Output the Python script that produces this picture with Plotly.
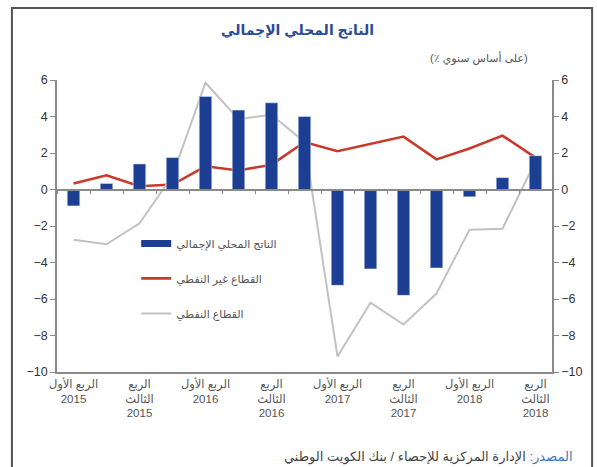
import plotly.graph_objects as go

quarters = [
    "الربع الأول 2015", "الربع الثاني 2015", "الربع الثالث 2015", "الربع الرابع 2015",
    "الربع الأول 2016", "الربع الثاني 2016", "الربع الثالث 2016", "الربع الرابع 2016",
    "الربع الأول 2017", "الربع الثاني 2017", "الربع الثالث 2017", "الربع الرابع 2017",
    "الربع الأول 2018", "الربع الثاني 2018", "الربع الثالث 2018",
]
gdp = [-0.9, 0.33, 1.4, 1.75, 5.1, 4.35, 4.75, 4.0, -5.25, -4.35, -5.8, -4.3, -0.4, 0.65, 1.85]
non_oil = [0.33, 0.78, 0.18, 0.27, 1.27, 1.04, 1.36, 2.6, 2.1, 2.5, 2.9, 1.65, 2.25, 2.95, 1.75]
oil = [-2.75, -3.0, -1.85, 0.75, 5.85, 3.85, 4.1, 2.6, -9.15, -6.2, -7.4, -5.7, -2.2, -2.15, 1.55]

tick_cats = [quarters[i] for i in range(0, 15, 2)]
tick_labels = [
    "الربع الأول<br>2015", "الربع<br>الثالث<br>2015",
    "الربع الأول<br>2016", "الربع<br>الثالث<br>2016",
    "الربع الأول<br>2017", "الربع<br>الثالث<br>2017",
    "الربع الأول<br>2018", "الربع<br>الثالث<br>2018",
]
y_ticks = [-10, -8, -6, -4, -2, 0, 2, 4, 6]

names = ["الناتج المحلي الإجمالي", "القطاع غير النفطي", "القطاع النفطي"]
BLUE = "#1c3f94"
RED = "#c9392b"
GREY = "#c2c2c2"
FONT = "Arial, Liberation Sans, DejaVu Sans, sans-serif"

fig = go.Figure()
fig.add_trace(go.Bar(x=quarters, y=gdp, marker_color=BLUE, width=0.38,
                     xaxis="x2", yaxis="y", showlegend=False))
fig.add_trace(go.Scatter(x=quarters, y=non_oil, mode="lines",
                         line=dict(color=RED, width=2.6), showlegend=False,
                         xaxis="x", yaxis="y"))
fig.add_trace(go.Scatter(x=quarters, y=oil, mode="lines",
                         line=dict(color=GREY, width=2), showlegend=False,
                         xaxis="x", yaxis="y2"))
# legend entries
for nm, col, w, g in [(names[0], BLUE, 7, "a"), (names[1], RED, 2.6, "b"), (names[2], GREY, 2, "c")]:
    fig.add_trace(go.Scatter(x=[None], y=[None], mode="lines", name=nm,
                             line=dict(color=col, width=w), legendgroup=g,
                             xaxis="x", yaxis="y"))

axis_col = "#8a8a8a"
frame = dict(color="#555555", width=2)
fig.update_layout(
    width=597, height=467,
    margin=dict(l=57, r=45, t=80, b=95),
    paper_bgcolor="white", plot_bgcolor="white",
    font=dict(family=FONT, color="#444"),
    bargap=0.6,
    xaxis=dict(type="category", categoryorder="array", categoryarray=quarters,
               range=[-0.5, 14.5], tickmode="array", tickvals=tick_cats, ticktext=tick_labels,
               showline=True, linecolor=axis_col, linewidth=1.5, ticks="",
               showgrid=False, zeroline=False,
               tickfont=dict(size=11.5, color="#555"), anchor="y"),
    xaxis2=dict(type="category", categoryorder="array", categoryarray=quarters,
                range=[-0.5, 14.5], overlaying="x", anchor="free", position=0.625,
                showline=True, linecolor=axis_col, linewidth=1.5,
                ticks="outside", tickson="boundaries", ticklen=4, tickcolor=axis_col,
                showticklabels=False, showgrid=False, zeroline=False),
    yaxis=dict(range=[-10, 6], tickvals=y_ticks, showline=True, linecolor=axis_col,
               linewidth=1.5, ticks="outside", ticklen=5, tickcolor=axis_col,
               showgrid=False, zeroline=False, tickfont=dict(size=12.5, color="#333"),
               anchor="x"),
    yaxis2=dict(range=[-10, 6], tickvals=y_ticks, overlaying="y", side="right",
                showline=True, linecolor=axis_col, linewidth=1.5, ticks="outside",
                ticklen=5, tickcolor=axis_col, showgrid=False, zeroline=False,
                tickfont=dict(size=12.5, color="#333"), anchor="x"),
    legend=dict(x=0.16, y=0.49, xanchor="left", yanchor="top",
                traceorder="grouped", tracegroupgap=16, itemwidth=30,
                bgcolor="rgba(0,0,0,0)", font=dict(size=11, color="#555")),
    annotations=[
        dict(text="<b>الناتج المحلي الإجمالي</b>", xref="paper", yref="paper",
             x=0.485, y=1.171, xanchor="center", yanchor="middle", showarrow=False,
             font=dict(size=14, color="#2b4a9a")),
        dict(text="(٪ على أساس سنوي)", xref="paper", yref="paper",
             x=0.956, y=1.075, xanchor="right", yanchor="middle", showarrow=False,
             font=dict(size=11, color="#555")),
        dict(text="<span style='color:#3a78c0'>المصدر:</span> الإدارة المركزية للإحصاء / بنك الكويت الوطني",
             xref="paper", yref="paper", x=0.75, y=-0.29, xanchor="center",
             yanchor="middle", showarrow=False, font=dict(size=13, color="#444")),
    ],
    shapes=[
        dict(type="rect", xref="paper", yref="paper", x0=-0.091, x1=1.081,
             y0=-0.33, y1=1.2466, line=frame, fillcolor="rgba(0,0,0,0)", layer="above"),
    ],
)

fig.write_html("out.html", config={"displayModeBar": False},
               post_script="document.body.style.margin='0';document.body.style.overflow='hidden';")
